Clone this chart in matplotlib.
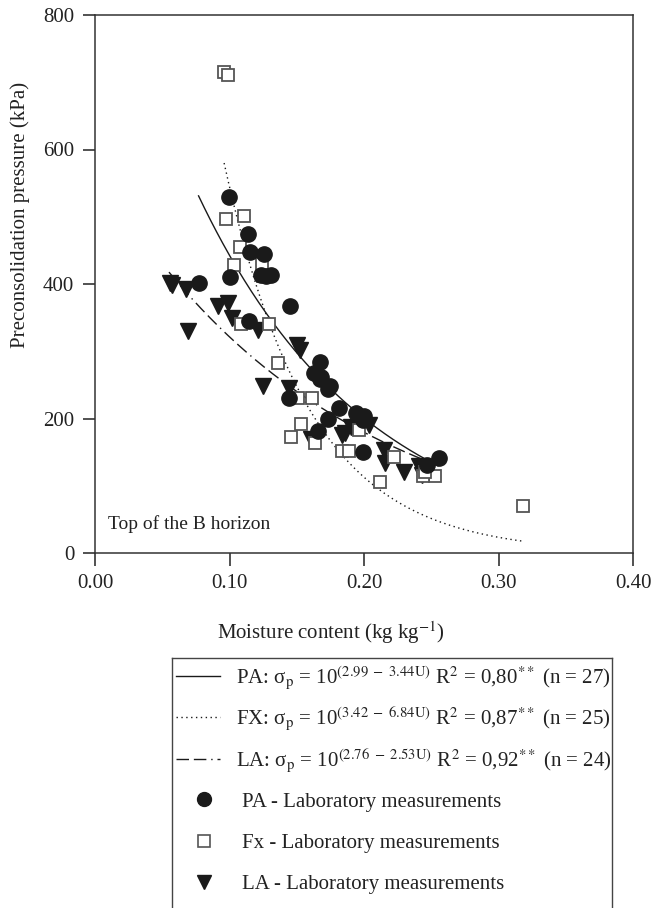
import matplotlib
matplotlib.use('agg')
import matplotlib.pyplot as plt
from matplotlib.lines import Line2D
import numpy as np

plt.rcParams['font.family'] = ['Liberation Serif', 'DejaVu Serif']
plt.rcParams['mathtext.fontset'] = 'stix'

# laboratory measurements (moisture content kg/kg, preconsolidation pressure kPa)
pa_u = [0.0999, 0.1138, 0.1153, 0.1257, 0.1235, 0.1307, 0.1004, 0.0774, 0.145,
        0.1148, 0.1674, 0.163, 0.1674, 0.1736, 0.175, 0.1815, 0.1736, 0.1446,
        0.166, 0.194, 0.199, 0.2, 0.199, 0.256, 0.247, 0.168, 0.127]
pa_p = [530, 475, 448, 444, 414, 414, 411, 401, 367,
        345, 284, 268, 259, 244, 248, 216, 200, 230,
        181, 208, 198, 203, 150, 141, 131, 262, 412]

fx_u = [0.096, 0.099, 0.0975, 0.111, 0.108, 0.1037, 0.124, 0.1086, 0.129,
        0.136, 0.151, 0.161, 0.153, 0.1456, 0.1637, 0.184, 0.222, 0.212,
        0.2525, 0.318, 0.244, 0.189, 0.196, 0.245, 0.125]
fx_p = [715, 711, 496, 501, 455, 428, 430, 341, 340,
        283, 230, 230, 192, 172, 164, 152, 143, 106,
        114, 70, 115, 151, 183, 120, 412]

la_u = [0.0558, 0.0675, 0.0913, 0.0992, 0.1017, 0.069, 0.1215, 0.150, 0.1525,
        0.1252, 0.1446, 0.1607, 0.184, 0.2145, 0.2158, 0.2294, 0.2406, 0.243,
        0.19, 0.197, 0.204, 0.057, 0.186, 0.245]
la_p = [402, 393, 367, 372, 350, 330, 332, 310, 302,
        248, 245, 169, 176, 153, 134, 121, 129, 116,
        188, 195, 190, 398, 178, 122]

# fitted models sigma_p = 10^(a - b U), with fitted moisture range
fit_names = ['PA', 'FX', 'LA']
fit_a = [2.99, 3.42, 2.76]
fit_b = [3.44, 6.84, 2.53]
fit_r2 = ['0,80', '0,87', '0,92']
fit_n = [27, 25, 24]
fit_umin = [0.077, 0.096, 0.055]
fit_umax = [0.255, 0.318, 0.245]
fit_ls = ['-', (0, (1, 2.5)), (0, (9, 3.5, 9, 3.5, 1, 3.5))]

fig = plt.figure(figsize=(6.67, 9.08), dpi=100)
ax = fig.add_axes([95/667, 1-553/908, 538/667, 538/908])

for a, b, u0, u1, ls in zip(fit_a, fit_b, fit_umin, fit_umax, fit_ls):
    u = np.linspace(u0, u1, 200)
    ax.plot(u, 10**(a - b*u), color='#1a1a1a', lw=1.0, ls=ls, zorder=2)

ax.plot(la_u, la_p, ls='none', marker='v', ms=11, mfc='#1a1a1a', mec='#1a1a1a', zorder=3)
ax.plot(fx_u, fx_p, ls='none', marker='s', ms=9, mfc='white', mec='#555555', mew=1.3, zorder=4)
ax.plot(pa_u, pa_p, ls='none', marker='o', ms=11, mfc='#1a1a1a', mec='#1a1a1a', zorder=5)

ax.set_xlim(0, 0.40)
ax.set_ylim(0, 800)
ax.set_xticks([0.0, 0.1, 0.2, 0.3, 0.4])
ax.set_xticklabels(['0.00', '0.10', '0.20', '0.30', '0.40'])
ax.set_yticks([0, 200, 400, 600, 800])
ax.tick_params(direction='out', length=9, width=1.1, labelsize=15, colors='#222222', pad=6)
for s in ax.spines.values():
    s.set_linewidth(1.1)
    s.set_color('#333333')

ax.text(0.025, 0.045, 'Top of the B horizon', transform=ax.transAxes, fontsize=14, color='#222222')

fig.text(20/667, 1-215/908, 'Preconsolidation pressure (kPa)', rotation=90,
         ha='center', va='center', fontsize=15, color='#222222')
fig.text(331/667, 1-633/908, 'Moisture content (kg kg$^{\\mathrm{-1}}$)',
         ha='center', va='center', fontsize=15, color='#222222')

# legend box, cut by the bottom of the figure
lax = fig.add_axes([172/667, -0.05, 440/667, 1-658/908+0.05])
lax.set_xticks([])
lax.set_yticks([])
for s in lax.spines.values():
    s.set_linewidth(1.0)
    s.set_color('#444444')

eq_handles = []
eq_labels = []
for name, a, b, r2, n, ls in zip(fit_names, fit_a, fit_b, fit_r2, fit_n, fit_ls):
    eq_handles.append(Line2D([], [], color='#1a1a1a', lw=1.0, ls=ls))
    eq_labels.append(name + ': σ$_\\mathrm{p}$ = 10$^{\\mathrm{(%.2f\\ -\\ %.2fU)}}$ R$^\\mathrm{2}$ = %s$^{**}$ (n = %d)'
                     % (a, b, r2, n))

pt_handles = [
    Line2D([], [], ls='none', marker='o', ms=10, mfc='#1a1a1a', mec='#1a1a1a'),
    Line2D([], [], ls='none', marker='s', ms=8, mfc='white', mec='#555555', mew=1.2),
    Line2D([], [], ls='none', marker='v', ms=10, mfc='#1a1a1a', mec='#1a1a1a'),
]
pt_labels = ['PA - Laboratory measurements', 'Fx - Laboratory measurements',
             'LA - Laboratory measurements']

leg1 = lax.legend(eq_handles, eq_labels, loc='center left', bbox_to_anchor=(176/667, 1-719/908),
                  bbox_transform=fig.transFigure, frameon=False, fontsize=15,
                  handlelength=2.1, handletextpad=0.8, labelspacing=0.65,
                  borderpad=0, borderaxespad=0)
lax.add_artist(leg1)
leg2 = lax.legend(pt_handles, pt_labels, loc='center left', bbox_to_anchor=(182/667, 1-843/908),
                  bbox_transform=fig.transFigure, frameon=False, fontsize=15,
                  handlelength=2.1, handletextpad=0.8, labelspacing=1.04,
                  borderpad=0, borderaxespad=0)
for lg in (leg1, leg2):
    for t in lg.get_texts():
        t.set_color('#222222')

plt.savefig('out.png', dpi=100)
